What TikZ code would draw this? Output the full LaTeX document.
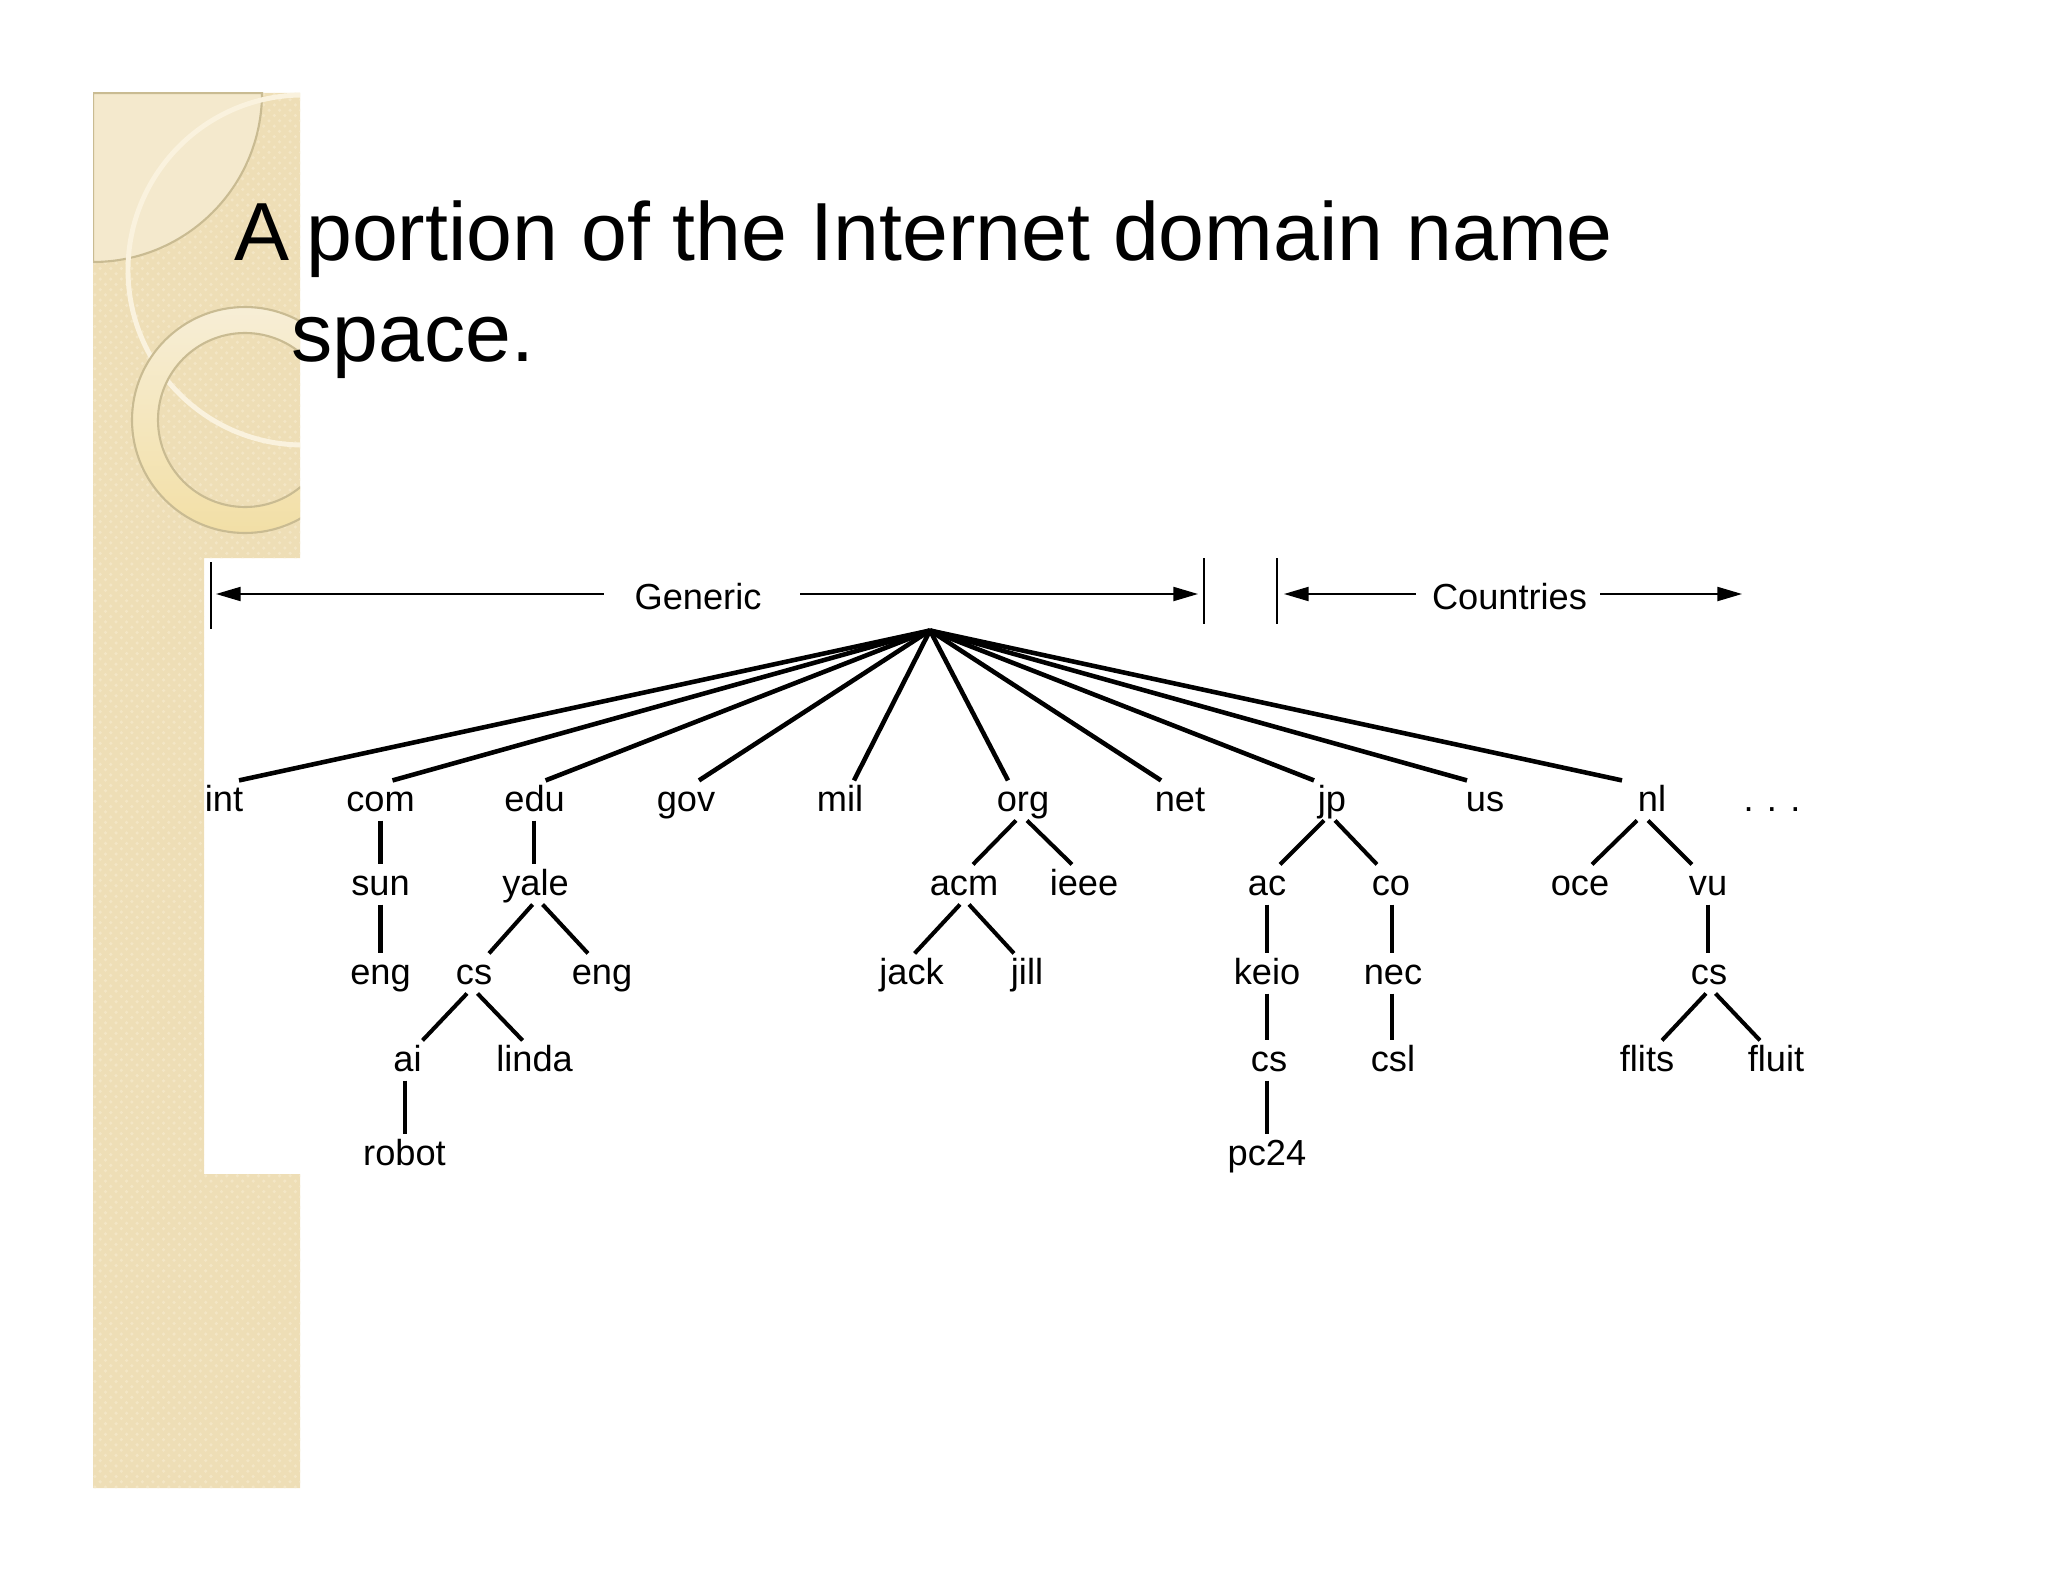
\documentclass[tikz,border=0pt]{standalone}
\usepackage{fontspec}
\setmainfont{Liberation Sans}
\usetikzlibrary{arrows.meta, patterns}
\definecolor{paneltan}{HTML}{EEDEB6}
\definecolor{paneldot}{HTML}{F3E6C5}
\definecolor{panellight}{HTML}{F4E9CD}
\definecolor{panelline}{HTML}{C9BB92}
\definecolor{ringtop}{HTML}{F7EED6}
\definecolor{ringbot}{HTML}{F2DFA6}
\definecolor{arcline}{HTML}{FAF2DE}
\tikzset{
    lab/.style={font=\fontsize{10.3}{12}\selectfont, anchor=base, inner sep=0pt, text height=8.5pt, text depth=2.5pt},
    branch/.style={line width=1.15pt},
    spoke/.style={line width=1.3pt},
    spanarrow/.style={line width=0.5pt, -{Triangle[length=7pt,width=4pt]}},
    barline/.style={line width=0.55pt},
    headline/.style={font=\fontsize{23.45}{28}\selectfont, anchor=base west, inner sep=0pt}
}

\begin{document}
\begin{tikzpicture}[x=0.01cm, y=-0.01cm]
    \useasboundingbox (0,0) rectangle (2048,1582);
    % side panel
    \fill[paneltan, postaction={pattern=crosshatch dots, pattern color=paneldot}] (93,93) -- (300,93) -- (300,558) -- (204,558) -- (204,1174) -- (300,1174) -- (300,1488) -- (93,1488) -- cycle;
    \begin{scope}
        \clip (93,93) rectangle (300,558);
        \fill[panellight, draw=panelline, line width=0.6pt] (93,93) -- (262,93) arc[start angle=0, end angle=90, radius=169] -- cycle;
        \draw[line width=1.4pt, color=arcline] (303,270) circle[radius=175];
        \shade[even odd rule, top color=ringtop, bottom color=ringbot] (245,420) circle[radius=113] (245,420) circle[radius=87];
        \draw[panelline, line width=0.6pt] (245,420) circle[radius=113];
        \draw[panelline, line width=0.6pt] (245,420) circle[radius=87];
    \end{scope}
    % title
    \node[headline](title1) at (234,261){A\hspace{-1.8pt} portion of the Internet domain name};
    \node[headline](title2) at (291,361){space.};
    % ranges
    \coordinate(barA1) at (210.6,562); \coordinate(barA2) at (210.6,629);
    \coordinate(barB1) at (1204.3,558); \coordinate(barB2) at (1204.3,624);
    \coordinate(barC1) at (1277,558); \coordinate(barC2) at (1277,624);
    \draw[barline](barA1)--(barA2); \draw[barline](barB1)--(barB2); \draw[barline](barC1)--(barC2);
    \node[lab](generic) at (698,609){Generic};
    \node[lab](countries) at (1509.5,609){Countries};
    \coordinate(genL) at (603.5,594); \coordinate(genLtip) at (216,594);
    \coordinate(genR) at (800.4,594); \coordinate(genRtip) at (1198,594);
    \coordinate(couL) at (1415.7,594); \coordinate(couLtip) at (1284,594);
    \coordinate(couR) at (1600,594); \coordinate(couRtip) at (1742,594);
    \draw[spanarrow](genL)--(genLtip); \draw[spanarrow](genR)--(genRtip);
    \draw[spanarrow](couL)--(couLtip); \draw[spanarrow](couR)--(couRtip);
    % top level
    \coordinate(root) at (930,630.5);
    \node[lab](int) at (224,811){int};
    \node[lab](com) at (380.5,811){com};
    \node[lab](edu) at (534.6,811){edu};
    \node[lab](gov) at (686,811){gov};
    \node[lab](mil) at (840,811){mil};
    \node[lab](org) at (1023,811){org};
    \node[lab](net) at (1180,811){net};
    \node[lab](jp) at (1332,811){jp};
    \node[lab](us) at (1485,811){us};
    \node[lab](nl) at (1652,811){nl};
    \node[lab](more) at (1772,811){. . .};
    % second level
    \node[lab](sun) at (380.5,895){sun};
    \node[lab](yale) at (535.6,895){yale};
    \node[lab](acm) at (964,895){acm};
    \node[lab](ieee) at (1084,895){ieee};
    \node[lab](ac) at (1267,895){ac};
    \node[lab](co) at (1391,895){co};
    \node[lab](oce) at (1580,895){oce};
    \node[lab](vu) at (1708,895){vu};
    % third level
    \node[lab](engS) at (380.5,984){eng};
    \node[lab](csY) at (474,984){cs};
    \node[lab](engY) at (602,984){eng};
    \node[lab](jack) at (911.6,984){jack};
    \node[lab](jill) at (1027,984){jill};
    \node[lab](keio) at (1267,984){keio};
    \node[lab](nec) at (1393,984){nec};
    \node[lab](csV) at (1709,984){cs};
    % fourth level
    \node[lab](ai) at (407.5,1071){ai};
    \node[lab](linda) at (534.6,1071){linda};
    \node[lab](csK) at (1269,1071){cs};
    \node[lab](csl) at (1393,1071){csl};
    \node[lab](flits) at (1647,1071){flits};
    \node[lab](fluit) at (1776,1071){fluit};
    % fifth level
    \node[lab](robot) at (404.5,1165){robot};
    \node[lab](pc) at (1267,1165){pc24};
    % spokes
    \draw[spoke](root)--([shift={(15,0)}]int.north); \draw[spoke](root)--([shift={(12,0)}]com.north);
    \draw[spoke](root)--([shift={(11,0)}]edu.north); \draw[spoke](root)--([shift={(13,0)}]gov.north);
    \draw[spoke](root)--([shift={(14,0)}]mil.north); \draw[spoke](root)--([shift={(-15,0)}]org.north);
    \draw[spoke](root)--([shift={(-19,0)}]net.north); \draw[spoke](root)--([shift={(-18,0)}]jp.north);
    \draw[spoke](root)--([shift={(-18,0)}]us.north); \draw[spoke](root)--([shift={(-30,0)}]nl.north);
    % branches
    \draw[branch](com.south)--(sun.north); \draw[branch](sun.south)--(engS.north);
    \draw[branch]([shift={(-1,0)}]edu.south)--([shift={(-2,0)}]yale.north);
    \draw[branch]([shift={(-3,0)}]yale.south)--([shift={(15,0)}]csY.north); \draw[branch]([shift={(7,0)}]yale.south)--([shift={(-14,0)}]engY.north);
    \draw[branch]([shift={(-7,0)}]csY.south)--([shift={(15,0)}]ai.north); \draw[branch]([shift={(3.5,0)}]csY.south)--([shift={(-12,0)}]linda.north);
    \draw[branch]([shift={(-2.5,0)}]ai.south)--([shift={(0.5,0)}]robot.north);
    \draw[branch]([shift={(-7,0)}]org.south)--([shift={(9,0)}]acm.north); \draw[branch]([shift={(4,0)}]org.south)--([shift={(-12,0)}]ieee.north);
    \draw[branch]([shift={(-4,0)}]acm.south)--([shift={(3,0)}]jack.north); \draw[branch]([shift={(5,0)}]acm.south)--([shift={(-13,0)}]jill.north);
    \draw[branch]([shift={(-8,0)}]jp.south)--([shift={(13,0)}]ac.north); \draw[branch]([shift={(3,0)}]jp.south)--([shift={(-14,0)}]co.north);
    \draw[branch](ac.south)--(keio.north); \draw[branch](keio.south)--([shift={(-2,0)}]csK.north);
    \draw[branch]([shift={(-2,0)}]csK.south)--(pc.north);
    \draw[branch]([shift={(1,0)}]co.south)--([shift={(-1,0)}]nec.north); \draw[branch]([shift={(-1,0)}]nec.south)--([shift={(-1,0)}]csl.north);
    \draw[branch]([shift={(-15,0)}]nl.south)--([shift={(12,0)}]oce.north); \draw[branch]([shift={(-4,0)}]nl.south)--([shift={(-16,0)}]vu.north);
    \draw[branch](vu.south)--([shift={(-1,0)}]csV.north);
    \draw[branch]([shift={(-3,0)}]csV.south)--([shift={(15,0)}]flits.north); \draw[branch]([shift={(6.5,0)}]csV.south)--([shift={(-16,0)}]fluit.north);
\end{tikzpicture}
\end{document}
